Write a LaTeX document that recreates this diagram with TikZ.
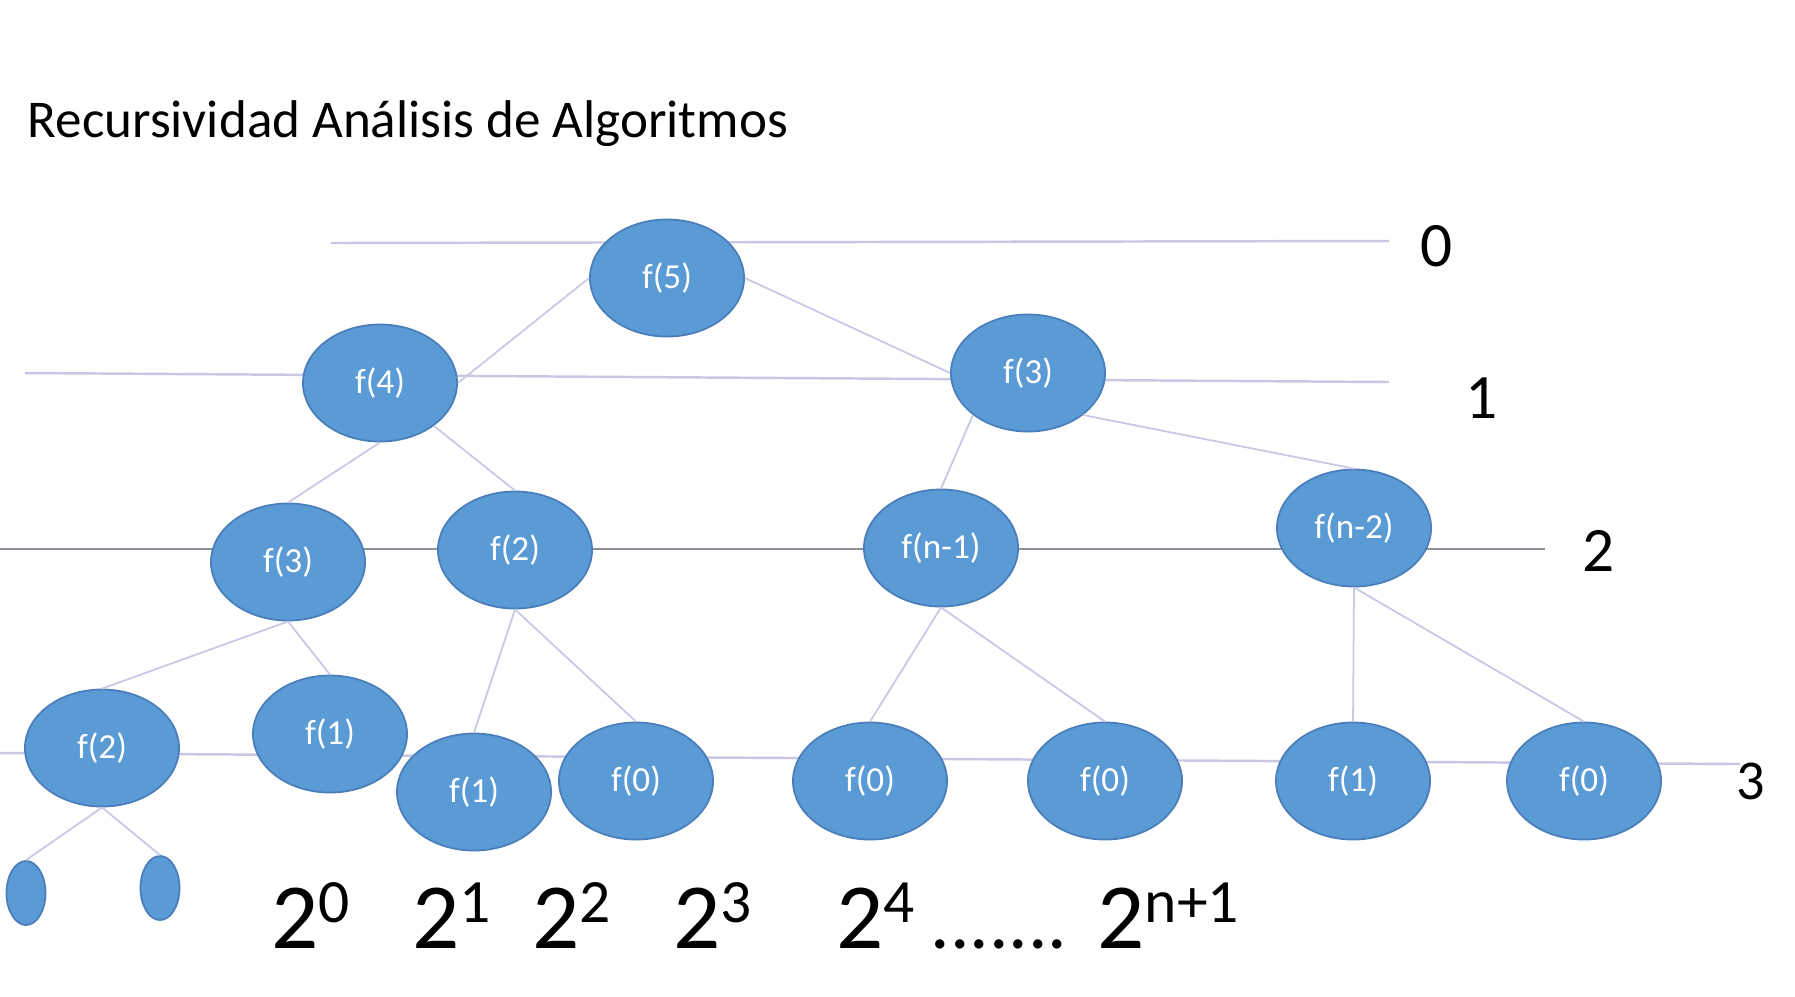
\documentclass[tikz,border=0pt]{standalone}
\usepackage{fontspec}
\setmainfont{Carlito}
\usepackage{tikz}
\usetikzlibrary{shapes.geometric}
\usepackage{xcolor}

\definecolor{callblue}{RGB}{91,155,213}
\definecolor{callrim}{RGB}{74,126,187}
\definecolor{lvlline}{RGB}{200,200,228}
\definecolor{lvlgray}{RGB}{140,146,154}

\newcommand{\powtwo}[1]{2\raisebox{7.4pt}{\fontsize{17.5}{19}\selectfont #1}}

\begin{document}
\begin{tikzpicture}[
    x=0.01cm, y=-0.01cm,
    call/.style={ellipse, fill=callblue, draw=callrim, line width=0.5pt,
                 minimum width=1.54cm, minimum height=1.17cm, inner sep=0pt,
                 text=white, font=\fontsize{10}{12}\selectfont},
    leaf/.style={ellipse, fill=callblue, draw=callrim, line width=0.5pt,
                 minimum width=0.39cm, minimum height=0.64cm, inner sep=0pt},
    edge/.style={draw=lvlline, line width=0.5pt},
    level/.style={draw=lvlline, line width=0.7pt},
    lvl/.style={font=\fontsize{18}{20}\selectfont},
    pow/.style={anchor=base west, font=\fontsize{26.5}{30}\selectfont, inner sep=0pt},
]
\useasboundingbox (0,0) rectangle (1795,996);

% ── Title ────────────────────────────────────────────────────
\node[anchor=base west, inner sep=0pt, font=\fontsize{15.1}{18}\selectfont]
    (title) at (27,137) {Recursividad Análisis de Algoritmos};

% ── Level lines ──────────────────────────────────────────────
\coordinate (l0a) at (331,243);  \coordinate (l0b) at (1389,241);
\coordinate (l1a) at (25,373);   \coordinate (l1b) at (1389,382);
\coordinate (l2a) at (0,549);    \coordinate (l2b) at (1545,549);
\coordinate (l3a) at (0,753);    \coordinate (l3b) at (1740,764);
\draw[level] (l0a) -- (l0b);
\draw[level] (l1a) -- (l1b);
\draw[draw=lvlgray, line width=0.5pt] (l2a) -- (l2b);
\draw[level] (l3a) -- (l3b);

\node[lvl] (n0) at (1437,246) {0};
\node[lvl] (n1) at (1482,398) {1};
\node[lvl] (n2) at (1599,551) {2};
\node[font=\fontsize{16}{18}\selectfont] (n3) at (1751,781) {3};

% ── Calls ────────────────────────────────────────────────────
\node[call] (f5)  at (667,278)  {f(5)};
\node[call] (f4)  at (380,383)  {f(4)};
\node[call] (f3r) at (1028,373) {f(3)};
\node[call] (f3l) at (288,562)  {f(3)};
\node[call] (f2)  at (515,550)  {f(2)};
\node[call] (fn1) at (941,548)  {f(n-1)};
\node[call] (fn2) at (1354,528) {f(n-2)};

\node[call] (b1) at (102,748)  {f(2)};
\node[call] (b2) at (330,734)  {f(1)};
\node[call] (b3) at (474,792)  {f(1)};
\node[call] (b4) at (636,781)  {f(0)};
\node[call] (b5) at (870,781)  {f(0)};
\node[call] (b6) at (1105,781) {f(0)};
\node[call] (b7) at (1353,781) {f(1)};
\node[call] (b8) at (1584,781) {f(0)};

\node[leaf] (s1) at (26,893)  {};
\node[leaf] (s2) at (160,888) {};

% ── Edges ────────────────────────────────────────────────────
\draw[edge] (f5.west) -- (f4.east);
\draw[edge] (f5.east) -- (f3r.west);
\draw[edge] (f4.south) -- (f3l.north);
\draw[edge] (f4) -- (f2.north);
\draw[edge] (f3r.south west) -- (fn1.north);
\draw[edge] (f3r.south east) -- (fn2.north);
\draw[edge] (f3l.south) -- (b1.north);
\draw[edge] (f3l.south) -- (b2.north);
\draw[edge] (f2.south) -- (b3.north);
\draw[edge] (f2.south) -- (b4.north);
\draw[edge] (fn1.south) -- (b5.north);
\draw[edge] (fn1.south) -- (b6.north);
\draw[edge] (fn2.south) -- (b7.north);
\draw[edge] (fn2.south) -- (b8.north);
\draw[edge] (b1.south) -- (s1.north);
\draw[edge] (b1.south) -- (s2.north);

% ── Powers ───────────────────────────────────────────────────
\node[pow] (p0) at (271,948) {\powtwo{0}};
\node[pow] (p1) at (412,948) {\powtwo{1}};
\node[pow] (p2) at (532,948) {\powtwo{2}};
\node[pow] (p3) at (673,948) {\powtwo{3}};
\node[pow] (p4) at (836,948) {\powtwo{4}};
\node[pow, font=\fontsize{22}{24}\selectfont] (dots) at (930,948) {.......};
\node[pow] (pn) at (1097,948) {\powtwo{n+1}};

\end{tikzpicture}
\end{document}
